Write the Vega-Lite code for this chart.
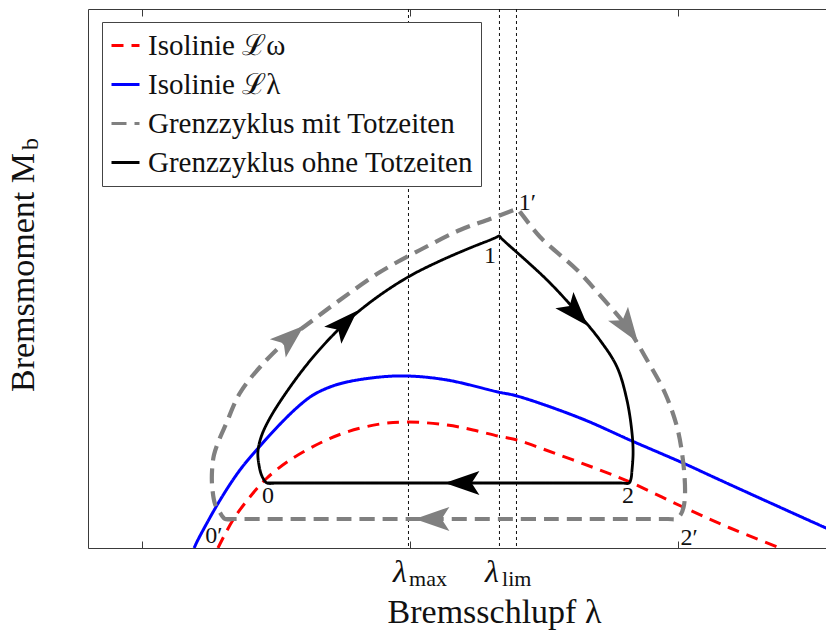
{
  "$schema": "https://vega.github.io/schema/vega-lite/v6.json",
  "width": 745,
  "height": 539,
  "autosize": {"type": "none"},
  "padding": {"left": 88, "top": 9, "right": 0, "bottom": 83},
  "background": "white",
  "config": {
    "view": {"stroke": "#3a3a3a", "strokeWidth": 1},
    "font": "Liberation Serif",
    "axis": {
      "grid": false,
      "domain": false,
      "labels": false,
      "tickColor": "#3a3a3a",
      "tickWidth": 1,
      "titleFont": "Liberation Serif",
      "titleFontWeight": "normal",
      "titleFontSize": 34,
      "titleColor": "#111111"
    },
    "legend": {
      "fillColor": "white",
      "strokeColor": "#444444",
      "padding": 8,
      "labelFont": "Liberation Serif",
      "labelFontSize": 29,
      "labelColor": "#111111",
      "symbolType": "stroke",
      "symbolSize": 784,
      "symbolStrokeWidth": 3,
      "rowPadding": 8,
      "labelOffset": 7,
      "labelLimit": 0
    }
  },
  "datasets": {
    "curves": [
      {"s": "Isolinie ℒω", "i": 0, "lam": 0.485, "M": 0.00},
      {"s": "Isolinie ℒω", "i": 1, "lam": 0.541, "M": 0.28},
      {"s": "Isolinie ℒω", "i": 2, "lam": 0.604, "M": 0.51},
      {"s": "Isolinie ℒω", "i": 3, "lam": 0.668, "M": 0.70},
      {"s": "Isolinie ℒω", "i": 4, "lam": 0.754, "M": 0.88},
      {"s": "Isolinie ℒω", "i": 5, "lam": 0.866, "M": 1.05},
      {"s": "Isolinie ℒω", "i": 6, "lam": 0.966, "M": 1.16},
      {"s": "Isolinie ℒω", "i": 7, "lam": 1.090, "M": 1.24},
      {"s": "Isolinie ℒω", "i": 8, "lam": 1.194, "M": 1.26},
      {"s": "Isolinie ℒω", "i": 9, "lam": 1.340, "M": 1.23},
      {"s": "Isolinie ℒω", "i": 10, "lam": 1.437, "M": 1.18},
      {"s": "Isolinie ℒω", "i": 11, "lam": 1.530, "M": 1.12},
      {"s": "Isolinie ℒω", "i": 12, "lam": 1.601, "M": 1.08},
      {"s": "Isolinie ℒω", "i": 13, "lam": 1.698, "M": 0.99},
      {"s": "Isolinie ℒω", "i": 14, "lam": 1.910, "M": 0.78},
      {"s": "Isolinie ℒω", "i": 15, "lam": 2.022, "M": 0.66},
      {"s": "Isolinie ℒω", "i": 16, "lam": 2.220, "M": 0.41},
      {"s": "Isolinie ℒω", "i": 17, "lam": 2.396, "M": 0.20},
      {"s": "Isolinie ℒω", "i": 18, "lam": 2.582, "M": 0.00},
      {"s": "Isolinie ℒω", "i": 19, "lam": 2.650, "M": -0.08},
      {"s": "Isolinie ℒλ", "i": 0, "lam": 0.396, "M": 0.00},
      {"s": "Isolinie ℒλ", "i": 1, "lam": 0.410, "M": 0.08},
      {"s": "Isolinie ℒλ", "i": 2, "lam": 0.493, "M": 0.48},
      {"s": "Isolinie ℒλ", "i": 3, "lam": 0.567, "M": 0.78},
      {"s": "Isolinie ℒλ", "i": 4, "lam": 0.642, "M": 1.02},
      {"s": "Isolinie ℒλ", "i": 5, "lam": 0.728, "M": 1.27},
      {"s": "Isolinie ℒλ", "i": 6, "lam": 0.791, "M": 1.43},
      {"s": "Isolinie ℒλ", "i": 7, "lam": 0.840, "M": 1.53},
      {"s": "Isolinie ℒλ", "i": 8, "lam": 0.903, "M": 1.61},
      {"s": "Isolinie ℒλ", "i": 9, "lam": 0.966, "M": 1.66},
      {"s": "Isolinie ℒλ", "i": 10, "lam": 1.090, "M": 1.71},
      {"s": "Isolinie ℒλ", "i": 11, "lam": 1.194, "M": 1.72},
      {"s": "Isolinie ℒλ", "i": 12, "lam": 1.340, "M": 1.68},
      {"s": "Isolinie ℒλ", "i": 13, "lam": 1.530, "M": 1.56},
      {"s": "Isolinie ℒλ", "i": 14, "lam": 1.601, "M": 1.52},
      {"s": "Isolinie ℒλ", "i": 15, "lam": 1.836, "M": 1.30},
      {"s": "Isolinie ℒλ", "i": 16, "lam": 2.030, "M": 1.07},
      {"s": "Isolinie ℒλ", "i": 17, "lam": 2.220, "M": 0.85},
      {"s": "Isolinie ℒλ", "i": 18, "lam": 2.358, "M": 0.68},
      {"s": "Isolinie ℒλ", "i": 19, "lam": 2.754, "M": 0.20},
      {"s": "Isolinie ℒλ", "i": 20, "lam": 2.806, "M": 0.14}
    ],
    "cycles": [
      {"s": "Grenzzyklus mit Totzeiten", "i": 0, "lam": 0.537, "M": 0.29},
      {"s": "Grenzzyklus mit Totzeiten", "i": 1, "lam": 0.511, "M": 0.29},
      {"s": "Grenzzyklus mit Totzeiten", "i": 2, "lam": 0.489, "M": 0.37},
      {"s": "Grenzzyklus mit Totzeiten", "i": 3, "lam": 0.474, "M": 0.44},
      {"s": "Grenzzyklus mit Totzeiten", "i": 4, "lam": 0.463, "M": 0.63},
      {"s": "Grenzzyklus mit Totzeiten", "i": 5, "lam": 0.463, "M": 0.78},
      {"s": "Grenzzyklus mit Totzeiten", "i": 6, "lam": 0.470, "M": 0.93},
      {"s": "Grenzzyklus mit Totzeiten", "i": 7, "lam": 0.489, "M": 1.08},
      {"s": "Grenzzyklus mit Totzeiten", "i": 8, "lam": 0.515, "M": 1.24},
      {"s": "Grenzzyklus mit Totzeiten", "i": 9, "lam": 0.567, "M": 1.55},
      {"s": "Grenzzyklus mit Totzeiten", "i": 10, "lam": 0.642, "M": 1.81},
      {"s": "Grenzzyklus mit Totzeiten", "i": 11, "lam": 0.743, "M": 2.08},
      {"s": "Grenzzyklus mit Totzeiten", "i": 12, "lam": 0.840, "M": 2.28},
      {"s": "Grenzzyklus mit Totzeiten", "i": 13, "lam": 0.940, "M": 2.48},
      {"s": "Grenzzyklus mit Totzeiten", "i": 14, "lam": 1.090, "M": 2.76},
      {"s": "Grenzzyklus mit Totzeiten", "i": 15, "lam": 1.239, "M": 2.98},
      {"s": "Grenzzyklus mit Totzeiten", "i": 16, "lam": 1.388, "M": 3.18},
      {"s": "Grenzzyklus mit Totzeiten", "i": 17, "lam": 1.500, "M": 3.29},
      {"s": "Grenzzyklus mit Totzeiten", "i": 18, "lam": 1.590, "M": 3.38},
      {"s": "Grenzzyklus mit Totzeiten", "i": 19, "lam": 1.601, "M": 3.39},
      {"s": "Grenzzyklus mit Totzeiten", "i": 20, "lam": 1.612, "M": 3.36},
      {"s": "Grenzzyklus mit Totzeiten", "i": 21, "lam": 1.687, "M": 3.11},
      {"s": "Grenzzyklus mit Totzeiten", "i": 22, "lam": 1.825, "M": 2.78},
      {"s": "Grenzzyklus mit Totzeiten", "i": 23, "lam": 1.910, "M": 2.53},
      {"s": "Grenzzyklus mit Totzeiten", "i": 24, "lam": 2.011, "M": 2.21},
      {"s": "Grenzzyklus mit Totzeiten", "i": 25, "lam": 2.086, "M": 1.88},
      {"s": "Grenzzyklus mit Totzeiten", "i": 26, "lam": 2.153, "M": 1.55},
      {"s": "Grenzzyklus mit Totzeiten", "i": 27, "lam": 2.198, "M": 1.21},
      {"s": "Grenzzyklus mit Totzeiten", "i": 28, "lam": 2.220, "M": 0.88},
      {"s": "Grenzzyklus mit Totzeiten", "i": 29, "lam": 2.228, "M": 0.58},
      {"s": "Grenzzyklus mit Totzeiten", "i": 30, "lam": 2.224, "M": 0.43},
      {"s": "Grenzzyklus mit Totzeiten", "i": 31, "lam": 2.213, "M": 0.34},
      {"s": "Grenzzyklus mit Totzeiten", "i": 32, "lam": 2.194, "M": 0.29},
      {"s": "Grenzzyklus mit Totzeiten", "i": 33, "lam": 2.164, "M": 0.29},
      {"s": "Grenzzyklus mit Totzeiten", "i": 34, "lam": 0.537, "M": 0.29},
      {"s": "Grenzzyklus mit Totzeiten", "i": 35, "lam": 0.511, "M": 0.29},
      {"s": "Grenzzyklus ohne Totzeiten", "i": 0, "lam": 0.698, "M": 0.65},
      {"s": "Grenzzyklus ohne Totzeiten", "i": 1, "lam": 0.668, "M": 0.65},
      {"s": "Grenzzyklus ohne Totzeiten", "i": 2, "lam": 0.649, "M": 0.72},
      {"s": "Grenzzyklus ohne Totzeiten", "i": 3, "lam": 0.638, "M": 0.83},
      {"s": "Grenzzyklus ohne Totzeiten", "i": 4, "lam": 0.634, "M": 0.96},
      {"s": "Grenzzyklus ohne Totzeiten", "i": 5, "lam": 0.646, "M": 1.11},
      {"s": "Grenzzyklus ohne Totzeiten", "i": 6, "lam": 0.679, "M": 1.30},
      {"s": "Grenzzyklus ohne Totzeiten", "i": 7, "lam": 0.754, "M": 1.61},
      {"s": "Grenzzyklus ohne Totzeiten", "i": 8, "lam": 0.840, "M": 1.91},
      {"s": "Grenzzyklus ohne Totzeiten", "i": 9, "lam": 0.929, "M": 2.17},
      {"s": "Grenzzyklus ohne Totzeiten", "i": 10, "lam": 0.989, "M": 2.32},
      {"s": "Grenzzyklus ohne Totzeiten", "i": 11, "lam": 1.090, "M": 2.53},
      {"s": "Grenzzyklus ohne Totzeiten", "i": 12, "lam": 1.201, "M": 2.72},
      {"s": "Grenzzyklus ohne Totzeiten", "i": 13, "lam": 1.313, "M": 2.87},
      {"s": "Grenzzyklus ohne Totzeiten", "i": 14, "lam": 1.425, "M": 3.00},
      {"s": "Grenzzyklus ohne Totzeiten", "i": 15, "lam": 1.500, "M": 3.08},
      {"s": "Grenzzyklus ohne Totzeiten", "i": 16, "lam": 1.526, "M": 3.11},
      {"s": "Grenzzyklus ohne Totzeiten", "i": 17, "lam": 1.534, "M": 3.12},
      {"s": "Grenzzyklus ohne Totzeiten", "i": 18, "lam": 1.545, "M": 3.09},
      {"s": "Grenzzyklus ohne Totzeiten", "i": 19, "lam": 1.713, "M": 2.68},
      {"s": "Grenzzyklus ohne Totzeiten", "i": 20, "lam": 1.817, "M": 2.38},
      {"s": "Grenzzyklus ohne Totzeiten", "i": 21, "lam": 1.910, "M": 2.08},
      {"s": "Grenzzyklus ohne Totzeiten", "i": 22, "lam": 1.974, "M": 1.81},
      {"s": "Grenzzyklus ohne Totzeiten", "i": 23, "lam": 2.011, "M": 1.48},
      {"s": "Grenzzyklus ohne Totzeiten", "i": 24, "lam": 2.030, "M": 1.15},
      {"s": "Grenzzyklus ohne Totzeiten", "i": 25, "lam": 2.034, "M": 0.95},
      {"s": "Grenzzyklus ohne Totzeiten", "i": 26, "lam": 2.030, "M": 0.78},
      {"s": "Grenzzyklus ohne Totzeiten", "i": 27, "lam": 2.026, "M": 0.69},
      {"s": "Grenzzyklus ohne Totzeiten", "i": 28, "lam": 2.019, "M": 0.65},
      {"s": "Grenzzyklus ohne Totzeiten", "i": 29, "lam": 1.985, "M": 0.65},
      {"s": "Grenzzyklus ohne Totzeiten", "i": 30, "lam": 0.698, "M": 0.65},
      {"s": "Grenzzyklus ohne Totzeiten", "i": 31, "lam": 0.668, "M": 0.65}
    ],
    "arrows": [
      {"s": "Grenzzyklus ohne Totzeiten", "lam": 0.959, "M": 2.25, "heading": 45},
      {"s": "Grenzzyklus ohne Totzeiten", "lam": 1.821, "M": 2.35, "heading": 138},
      {"s": "Grenzzyklus ohne Totzeiten", "lam": 1.396, "M": 0.65, "heading": 270},
      {"s": "Grenzzyklus mit Totzeiten", "lam": 0.757, "M": 2.11, "heading": 49},
      {"s": "Grenzzyklus mit Totzeiten", "lam": 2.015, "M": 2.20, "heading": 145},
      {"s": "Grenzzyklus mit Totzeiten", "lam": 1.284, "M": 0.29, "heading": 270}
    ],
    "markers": [
      {"name": "lambda_max", "lam": 1.1959},
      {"name": "lambda_lim", "lam": 1.5354},
      {"name": "lambda_lim_tot", "lam": 1.5989}
    ],
    "points": [
      {"t": "0", "lam": 0.672, "M": 0.45},
      {"t": "0′", "lam": 0.470, "M": 0.05},
      {"t": "1", "lam": 1.500, "M": 2.85},
      {"t": "1′", "lam": 1.640, "M": 3.38},
      {"t": "2", "lam": 2.015, "M": 0.45},
      {"t": "2′", "lam": 2.243, "M": 0.03}
    ],
    "lambdas": [
      {"t": "λ", "lam": 1.164, "M": -0.34},
      {"t": "λ", "lam": 1.507, "M": -0.34}
    ],
    "subscripts": [
      {"t": "max", "lam": 1.198, "M": -0.375},
      {"t": "lim", "lam": 1.545, "M": -0.375}
    ],
    "ysub": [
      {"t": "b", "lam": -0.187, "M": 3.98}
    ]
  },
  "layer": [
    {
      "data": {"name": "markers"},
      "mark": {"type": "rule", "strokeDash": [3, 3], "strokeWidth": 1, "color": "#111111"},
      "encoding": {
        "x": {
          "field": "lam",
          "type": "quantitative",
          "scale": {"domain": [0, 2.78], "nice": false, "zero": false},
          "axis": {"orient": "top", "values": [0.2, 1.2, 2.2], "tickSize": -7, "title": null}
        }
      }
    },
    {
      "data": {"name": "curves"},
      "mark": {"type": "line", "interpolate": "catmull-rom", "clip": true, "strokeWidth": 3},
      "encoding": {
        "x": {
          "field": "lam",
          "type": "quantitative",
          "axis": {
            "orient": "bottom",
            "values": [0.2, 1.2, 2.2],
            "tickSize": -7,
            "title": "Bremsschlupf λ",
            "titleX": 406,
            "titleY": 74,
            "titleAlign": "center",
            "titleBaseline": "alphabetic"
          }
        },
        "y": {
          "field": "M",
          "type": "quantitative",
          "scale": {"domain": [0, 5.39], "nice": false, "zero": false},
          "axis": {
            "title": "Bremsmoment M",
            "ticks": false,
            "titleAngle": 270,
            "titleAlign": "center",
            "titleBaseline": "alphabetic",
            "titleX": -55,
            "titleY": 263
          }
        },
        "order": {"field": "i", "type": "quantitative"},
        "color": {
          "field": "s",
          "type": "nominal",
          "scale": {
            "domain": ["Isolinie ℒω", "Isolinie ℒλ", "Grenzzyklus mit Totzeiten", "Grenzzyklus ohne Totzeiten"],
            "range": ["#ff0000", "#0000ff", "#808080", "#000000"]
          },
          "legend": {"title": null, "orient": "none", "legendX": 14, "legendY": 13}
        },
        "strokeDash": {
          "field": "s",
          "type": "nominal",
          "scale": {
            "domain": ["Isolinie ℒω", "Isolinie ℒλ", "Grenzzyklus mit Totzeiten", "Grenzzyklus ohne Totzeiten"],
            "range": [[12, 8], [1, 0], [15, 8], [1, 0]]
          },
          "legend": {"title": null, "orient": "none", "legendX": 14, "legendY": 13}
        }
      }
    },
    {
      "data": {"name": "cycles"},
      "transform": [{"filter": "datum.s === 'Grenzzyklus mit Totzeiten'"}],
      "mark": {"type": "line", "interpolate": "catmull-rom", "clip": true, "strokeWidth": 4.2},
      "encoding": {
        "x": {"field": "lam", "type": "quantitative", "axis": null},
        "y": {"field": "M", "type": "quantitative"},
        "order": {"field": "i", "type": "quantitative"},
        "color": {"field": "s", "type": "nominal"},
        "strokeDash": {"field": "s", "type": "nominal"}
      }
    },
    {
      "data": {"name": "cycles"},
      "transform": [{"filter": "datum.s === 'Grenzzyklus ohne Totzeiten'"}],
      "mark": {"type": "line", "interpolate": "catmull-rom", "clip": true, "strokeWidth": 2.8},
      "encoding": {
        "x": {"field": "lam", "type": "quantitative", "axis": null},
        "y": {"field": "M", "type": "quantitative"},
        "order": {"field": "i", "type": "quantitative"},
        "color": {"field": "s", "type": "nominal"},
        "strokeDash": {"field": "s", "type": "nominal"}
      }
    },
    {
      "data": {"name": "arrows"},
      "mark": {
        "type": "point",
        "shape": "M0,-1L0.7,1L0,0.55L-0.7,1Z",
        "size": 1200,
        "filled": true,
        "opacity": 1,
        "strokeWidth": 0
      },
      "encoding": {
        "x": {"field": "lam", "type": "quantitative", "axis": null},
        "y": {"field": "M", "type": "quantitative"},
        "fill": {
          "field": "s",
          "type": "nominal",
          "scale": {"domain": ["Grenzzyklus mit Totzeiten", "Grenzzyklus ohne Totzeiten"], "range": ["#808080", "#000000"]},
          "legend": null
        },
        "angle": {"field": "heading", "type": "quantitative", "scale": null}
      }
    },
    {
      "data": {"name": "points"},
      "mark": {"type": "text", "font": "Liberation Serif", "fontSize": 24, "align": "center", "baseline": "alphabetic", "color": "#111111"},
      "encoding": {
        "x": {"field": "lam", "type": "quantitative", "axis": null},
        "y": {"field": "M", "type": "quantitative"},
        "text": {"field": "t"}
      }
    },
    {
      "data": {"name": "lambdas"},
      "mark": {"type": "text", "font": "Liberation Serif", "fontStyle": "italic", "fontSize": 32, "align": "center", "baseline": "alphabetic", "color": "#111111"},
      "encoding": {
        "x": {"field": "lam", "type": "quantitative", "axis": null},
        "y": {"field": "M", "type": "quantitative"},
        "text": {"field": "t"}
      }
    },
    {
      "data": {"name": "subscripts"},
      "mark": {"type": "text", "font": "Liberation Serif", "fontSize": 22, "align": "left", "baseline": "alphabetic", "color": "#111111"},
      "encoding": {
        "x": {"field": "lam", "type": "quantitative", "axis": null},
        "y": {"field": "M", "type": "quantitative"},
        "text": {"field": "t"}
      }
    },
    {
      "data": {"name": "ysub"},
      "mark": {"type": "text", "font": "Liberation Serif", "fontSize": 24, "align": "left", "baseline": "alphabetic", "angle": 270, "color": "#111111"},
      "encoding": {
        "x": {"field": "lam", "type": "quantitative", "axis": null},
        "y": {"field": "M", "type": "quantitative"},
        "text": {"field": "t"}
      }
    }
  ],
  "resolve": {"axis": {"x": "independent"}}
}
